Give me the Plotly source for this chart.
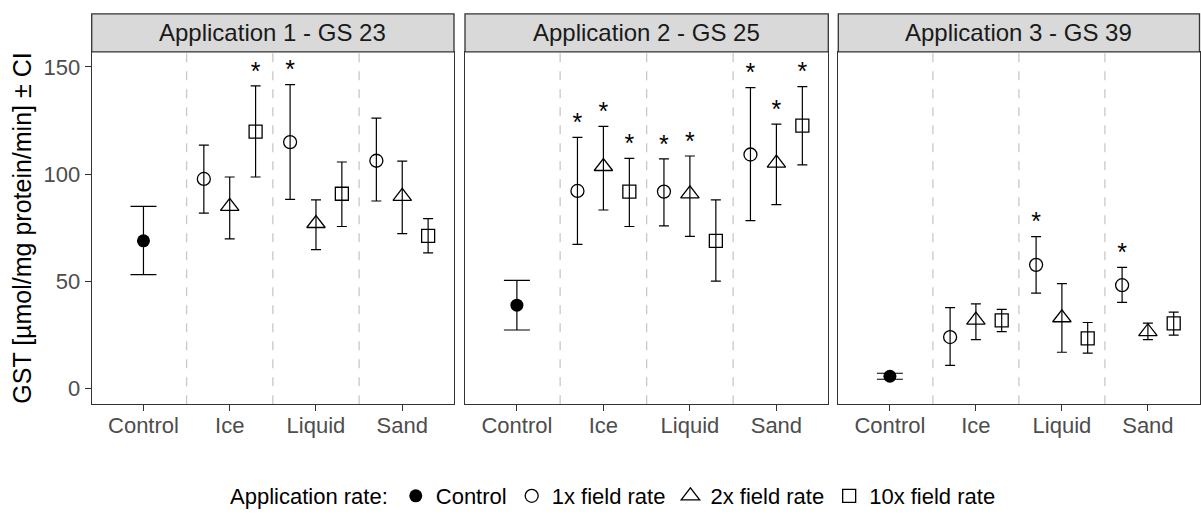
import plotly.graph_objects as go

# ---------------- data ----------------
panels = ["Application 1 - GS 23", "Application 2 - GS 25", "Application 3 - GS 39"]
categories = ["Control", "Ice", "Liquid", "Sand"]
treatments = ["Ice", "Liquid", "Sand"]
rates = ["1x field rate", "2x field rate", "10x field rate"]

control_mean = [68.8, 38.8, 5.6]
control_hi = [84.9, 50.4, 7.0]
control_lo = [53.0, 27.2, 4.2]

# per panel -> per rate -> values for Ice, Liquid, Sand
mean_p1 = {"1x field rate": [97.7, 114.9, 106.2], "2x field rate": [84.9, 76.9, 89.6], "10x field rate": [119.8, 90.8, 71.1]}
hi_p1 = {"1x field rate": [113.5, 141.7, 126.1], "2x field rate": [98.6, 87.9, 106.0], "10x field rate": [141.1, 105.6, 79.2]}
lo_p1 = {"1x field rate": [81.7, 88.2, 87.4], "2x field rate": [69.7, 64.7, 72.2], "10x field rate": [98.6, 75.5, 63.2]}
sig_p1 = {"1x field rate": [0, 1, 0], "2x field rate": [0, 0, 0], "10x field rate": [1, 0, 0]}

mean_p2 = {"1x field rate": [92.1, 91.8, 109.1], "2x field rate": [103.5, 90.7, 105.1], "10x field rate": [91.8, 68.8, 122.6]}
hi_p2 = {"1x field rate": [117.1, 107.1, 140.3], "2x field rate": [122.2, 108.4, 123.3], "10x field rate": [107.3, 87.9, 140.8]}
lo_p2 = {"1x field rate": [67.2, 75.8, 78.2], "2x field rate": [83.2, 70.9, 85.7], "10x field rate": [75.5, 50.0, 104.3]}
sig_p2 = {"1x field rate": [1, 1, 1], "2x field rate": [1, 1, 1], "10x field rate": [1, 0, 1]}

mean_p3 = {"1x field rate": [23.9, 57.6, 48.1], "2x field rate": [31.8, 32.9, 26.4], "10x field rate": [31.7, 23.3, 30.3]}
hi_p3 = {"1x field rate": [37.6, 70.8, 56.4], "2x field rate": [39.4, 48.8, 30.4], "10x field rate": [36.8, 30.7, 35.5]}
lo_p3 = {"1x field rate": [10.7, 44.4, 40.1], "2x field rate": [22.7, 16.8, 22.7], "10x field rate": [26.4, 16.4, 24.8]}
sig_p3 = {"1x field rate": [0, 1, 1], "2x field rate": [0, 0, 0], "10x field rate": [0, 0, 0]}

y_ticks = [0, 50, 100, 150]

# ---------------- styling ----------------
FONT = "Liberation Sans, Arial, sans-serif"
W, H = 1201, 517
x_dom = [(91.7, 454.0), (465.0, 828.3), (838.3, 1199.5)]
plot_top, plot_bot = 52.0, 405.0
strip_top = 14.0
symbols = {"1x field rate": "circle-open", "2x field rate": "triangle-up-open", "10x field rate": "square-open"}
sizes = {"1x field rate": 13, "2x field rate": 16, "10x field rate": 13}
dodge = {"1x field rate": -0.3, "2x field rate": 0.0, "10x field rate": 0.3}

means = [mean_p1, mean_p2, mean_p3]
his = [hi_p1, hi_p2, hi_p3]
los = [lo_p1, lo_p2, lo_p3]
sigs = [sig_p1, sig_p2, sig_p3]

fig = go.Figure()
layout = dict(
    width=W, height=H,
    margin=dict(l=0, r=0, t=0, b=0),
    paper_bgcolor="white", plot_bgcolor="white",
    font=dict(family=FONT, color="black"),
    showlegend=True,
)
shapes = []
annotations = []
ydom = [1 - plot_bot / H, 1 - plot_top / H]

for i in range(3):
    xa = "x" if i == 0 else f"x{i+1}"
    ya = "y" if i == 0 else f"y{i+1}"
    xkey = "xaxis" if i == 0 else f"xaxis{i+1}"
    ykey = "yaxis" if i == 0 else f"yaxis{i+1}"
    layout[xkey] = dict(
        domain=[x_dom[i][0] / W, x_dom[i][1] / W], anchor=ya,
        range=[0.4, 4.6], tickvals=[1, 2, 3, 4], ticktext=categories,
        showgrid=False, zeroline=False, showline=True, mirror=True,
        linecolor="#333333", linewidth=1.3,
        ticks="outside", ticklen=6, tickcolor="#333333", tickwidth=1.2,
        ticklabelstandoff=-5,
        tickfont=dict(size=22, color="#4d4d4d", family=FONT), automargin=False,
    )
    layout[ykey] = dict(
        domain=ydom, anchor=xa, range=[-7.45, 157],
        tickvals=y_ticks, showgrid=False, zeroline=False, showline=True, mirror=True,
        linecolor="#333333", linewidth=1.3,
        ticks="outside" if i == 0 else "", ticklen=6, tickcolor="#333333", tickwidth=1.2,
        showticklabels=(i == 0),
        tickfont=dict(size=22, color="#4d4d4d", family=FONT), automargin=False,
    )
    if i == 0:
        layout[ykey]["title"] = dict(text="GST [µmol/mg protein/min] ± CI",
                                     font=dict(size=25, color="black", family=FONT), standoff=4)
    # dashed separators
    for xv in [1.5, 2.5, 3.5]:
        shapes.append(dict(type="line", xref=xa, yref=f"{ya} domain", x0=xv, x1=xv, y0=0, y1=1,
                           line=dict(color="#c8c8c8", width=1.3, dash="dash"), layer="below"))
    # strip
    shapes.append(dict(type="rect", xref="paper", yref="paper",
                       x0=x_dom[i][0] / W, x1=x_dom[i][1] / W,
                       y0=1 - plot_top / H, y1=1 - strip_top / H,
                       fillcolor="#d9d9d9", line=dict(color="#333333", width=1.3)))
    annotations.append(dict(text=panels[i], xref="paper", yref="paper",
                            x=(x_dom[i][0] + x_dom[i][1]) / 2 / W,
                            y=1 - (plot_top + strip_top) / 2 / H,
                            showarrow=False, font=dict(size=24, color="#1a1a1a", family=FONT),
                            xanchor="center", yanchor="middle"))

    # control
    fig.add_trace(go.Scatter(
        x=[1], y=[control_mean[i]], mode="markers", xaxis=xa, yaxis=ya,
        name="Control", legendgroup="Control", showlegend=(i == 0),
        marker=dict(symbol="circle", size=13, color="black"),
        error_y=dict(type="data", symmetric=False,
                     array=[control_hi[i] - control_mean[i]],
                     arrayminus=[control_mean[i] - control_lo[i]],
                     color="black", thickness=1.2, width=13),
    ))
    for r in rates:
        xs = [k + 2 + dodge[r] for k in range(len(treatments))]
        m = means[i][r]
        h = his[i][r]
        l = los[i][r]
        fig.add_trace(go.Scatter(
            x=xs, y=m, mode="markers", xaxis=xa, yaxis=ya,
            name=r, legendgroup=r, showlegend=(i == 0),
            marker=dict(symbol=symbols[r], size=sizes[r], color="black", line=dict(width=1.3, color="black")),
            error_y=dict(type="data", symmetric=False,
                         array=[hh - mm for hh, mm in zip(h, m)],
                         arrayminus=[mm - ll for mm, ll in zip(m, l)],
                         color="black", thickness=1.2, width=5),
        ))
        sx = [x for x, s in zip(xs, sigs[i][r]) if s]
        sy = [hh for hh, s in zip(h, sigs[i][r]) if s]
        if sx:
            fig.add_trace(go.Scatter(
                x=sx, y=sy, mode="text", text=["*"] * len(sx), textposition="top center",
                xaxis=xa, yaxis=ya, showlegend=False, hoverinfo="skip",
                textfont=dict(size=25, color="black", family=FONT),
            ))

layout["shapes"] = shapes
layout["annotations"] = annotations
layout["legend"] = dict(
    orientation="h", x=228 / W, xanchor="left", y=1 - 497 / H, yanchor="middle",
    title=dict(text="Application rate:", font=dict(size=22, color="black", family=FONT)),
    font=dict(size=22, color="black", family=FONT),
    itemwidth=30, tracegroupgap=0,
)
fig.update_layout(**layout)
fig.write_html("out.html")
